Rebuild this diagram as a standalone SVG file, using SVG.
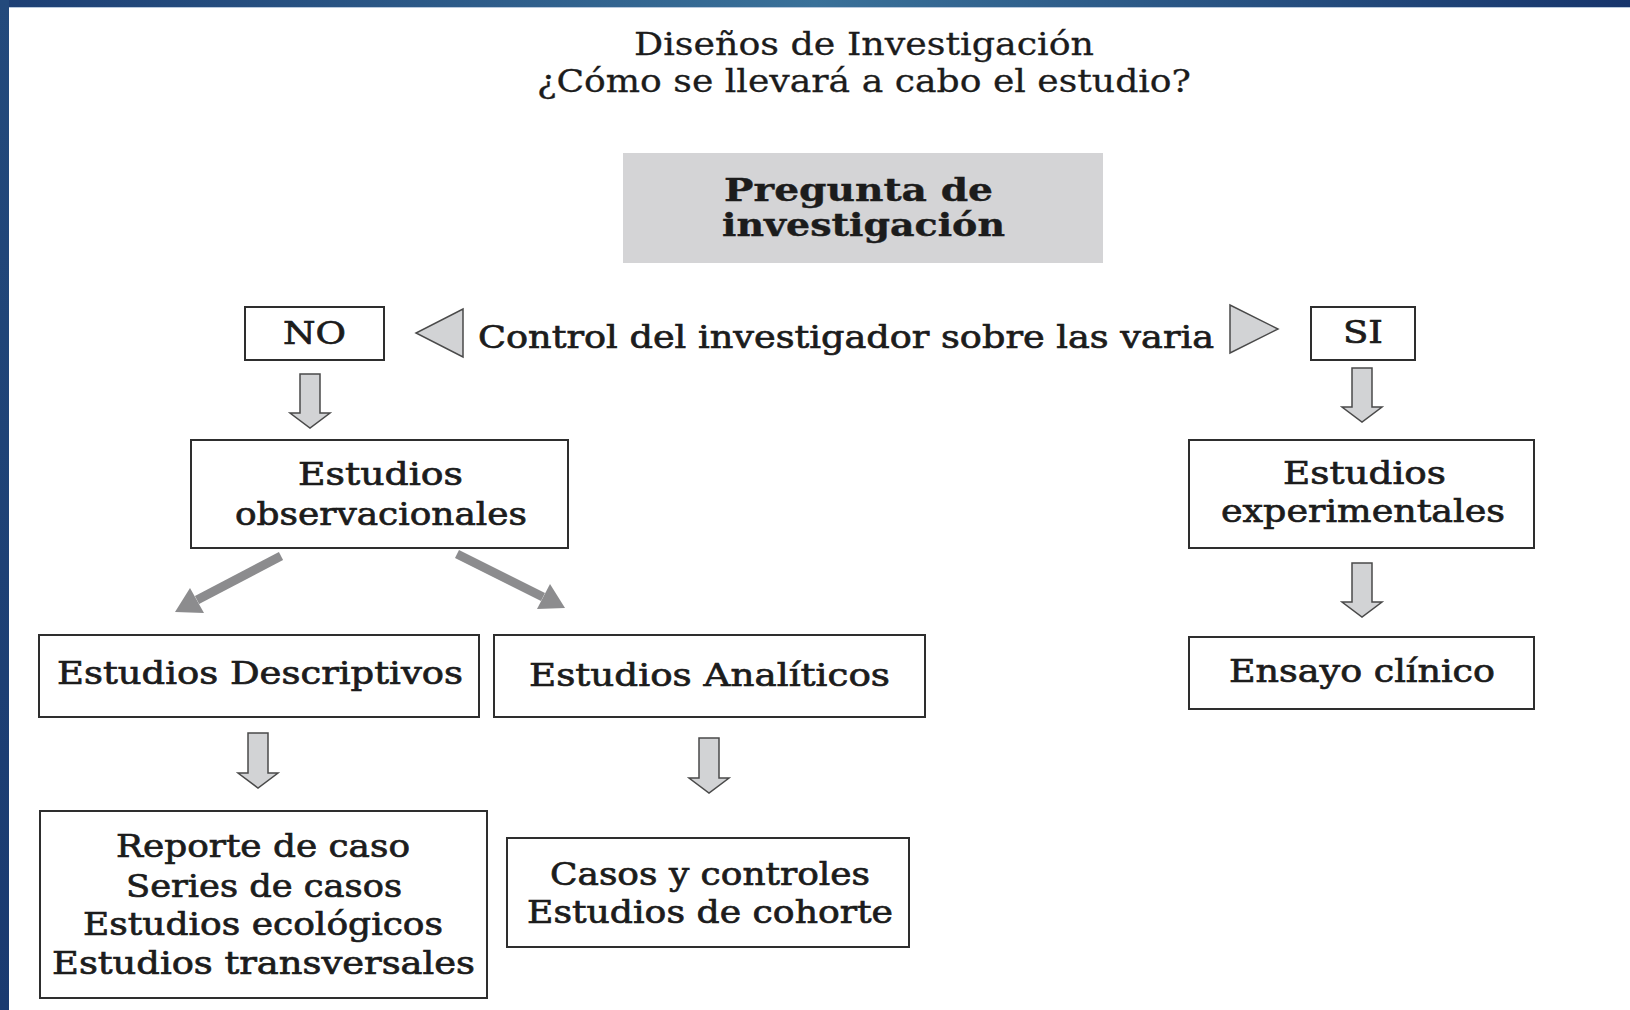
<svg xmlns="http://www.w3.org/2000/svg" width="1630" height="1010" viewBox="0 0 1630 1010">
<defs>
<linearGradient id="topband" x1="0" y1="0" x2="1" y2="0">
<stop offset="0" stop-color="#1d3f74"/>
<stop offset="0.5" stop-color="#3a7199"/>
<stop offset="1" stop-color="#17356c"/>
</linearGradient>
<linearGradient id="leftband" x1="0" y1="0" x2="0" y2="1">
<stop offset="0" stop-color="#234a7c"/>
<stop offset="1" stop-color="#1a3a70"/>
</linearGradient>
<style>
.t{font-family:"DejaVu Serif","Liberation Serif",serif;fill:#1c1c1c;font-size:32px;stroke:#1c1c1c;stroke-width:0.7px}
.ti{stroke-width:0.3px}
.b{font-weight:bold;stroke-width:0.4px}
.box{fill:#ffffff;stroke:#2e2e2e;stroke-width:2}
.blk{fill:#d2d3d5;stroke:#4a4a4a;stroke-width:1.5;stroke-linejoin:miter}
.diag{stroke:#8c8c8e;stroke-width:9;fill:none}
.dhead{fill:#8c8c8e}
</style>
</defs>
<rect x="0" y="0" width="1630" height="1010" fill="#ffffff"/>
<rect x="0" y="0" width="1630" height="7" fill="url(#topband)"/>
<rect x="0" y="7" width="1630" height="1" fill="#b8c8dc"/>
<rect x="0" y="0" width="9" height="1010" fill="url(#leftband)"/>

<g id="title">
<text class="t ti" x="634" y="55" font-size="31" textLength="460" lengthAdjust="spacingAndGlyphs">Diseños de Investigación</text>
<text class="t ti" x="537" y="92" font-size="31" textLength="654" lengthAdjust="spacingAndGlyphs">¿Cómo se llevará a cabo el estudio?</text>
</g>

<g id="pregunta">
<rect x="623" y="153" width="480" height="110" fill="#d4d4d6"/>
<text class="t b" x="724" y="201" font-size="34" textLength="269" lengthAdjust="spacingAndGlyphs">Pregunta de</text>
<text class="t b" x="722" y="236" font-size="34" textLength="283" lengthAdjust="spacingAndGlyphs">investigación</text>
</g>

<g id="control">
<polygon class="blk" points="463,309 463,357 416,333"/>
<text class="t" x="478" y="348" font-size="33" textLength="736" lengthAdjust="spacingAndGlyphs">Control del investigador sobre las varia</text>
<polygon class="blk" points="1230,305 1230,353 1278,329"/>
</g>

<g id="no">
<rect class="box" x="245" y="307" width="139" height="53"/>
<text class="t" x="283" y="344" font-size="33" textLength="63" lengthAdjust="spacingAndGlyphs">NO</text>
</g>

<g id="si">
<rect class="box" x="1311" y="307" width="104" height="53"/>
<text class="t" x="1343" y="343" font-size="33" textLength="40" lengthAdjust="spacingAndGlyphs">SI</text>
</g>

<g id="observacionales">
<rect class="box" x="191" y="440" width="377" height="108"/>
<text class="t" x="298" y="485" textLength="165" lengthAdjust="spacingAndGlyphs">Estudios</text>
<text class="t" x="235" y="525" textLength="292" lengthAdjust="spacingAndGlyphs">observacionales</text>
</g>

<g id="experimentales">
<rect class="box" x="1189" y="440" width="345" height="108"/>
<text class="t" x="1283" y="484" textLength="163" lengthAdjust="spacingAndGlyphs">Estudios</text>
<text class="t" x="1221" y="522" textLength="284" lengthAdjust="spacingAndGlyphs">experimentales</text>
</g>

<g id="descriptivos">
<rect class="box" x="39" y="635" width="440" height="82"/>
<text class="t" x="57" y="684" textLength="406" lengthAdjust="spacingAndGlyphs">Estudios Descriptivos</text>
</g>

<g id="analiticos">
<rect class="box" x="494" y="635" width="431" height="82"/>
<text class="t" x="529" y="686" textLength="361" lengthAdjust="spacingAndGlyphs">Estudios Analíticos</text>
</g>

<g id="ensayo">
<rect class="box" x="1189" y="637" width="345" height="72"/>
<text class="t" x="1229" y="682" textLength="266" lengthAdjust="spacingAndGlyphs">Ensayo clínico</text>
</g>

<g id="tipos-descriptivos">
<rect class="box" x="40" y="811" width="447" height="187"/>
<text class="t" x="116" y="857" textLength="294" lengthAdjust="spacingAndGlyphs">Reporte de caso</text>
<text class="t" x="126" y="897" textLength="276" lengthAdjust="spacingAndGlyphs">Series de casos</text>
<text class="t" x="83" y="935" textLength="360" lengthAdjust="spacingAndGlyphs">Estudios ecológicos</text>
<text class="t" x="52" y="974" textLength="423" lengthAdjust="spacingAndGlyphs">Estudios transversales</text>
</g>

<g id="tipos-analiticos">
<rect class="box" x="507" y="838" width="402" height="109"/>
<text class="t" x="550" y="885" textLength="320" lengthAdjust="spacingAndGlyphs">Casos y controles</text>
<text class="t" x="527" y="923" textLength="366" lengthAdjust="spacingAndGlyphs">Estudios de cohorte</text>
</g>

<g id="connectors">
<polygon class="blk" points="300,374 320,374 320,413 330,413 310,428 290,413 300,413"/>
<polygon class="blk" points="1352,368 1372,368 1372,407 1382,407 1362,422 1342,407 1352,407"/>
<polygon class="blk" points="1352,563 1372,563 1372,602 1382,602 1362,617 1342,602 1352,602"/>
<polygon class="blk" points="248,733 268,733 268,773 278,773 258,788 238,773 248,773"/>
<polygon class="blk" points="699,738 719,738 719,778 729,778 709,793 689,778 699,778"/>
<line class="diag" x1="281" y1="556" x2="197" y2="600"/>
<polygon class="dhead" points="175,612 190,588 204,613"/>
<line class="diag" x1="457" y1="554" x2="543" y2="597"/>
<polygon class="dhead" points="565,608 537,609 550,584"/>
</g>
</svg>
